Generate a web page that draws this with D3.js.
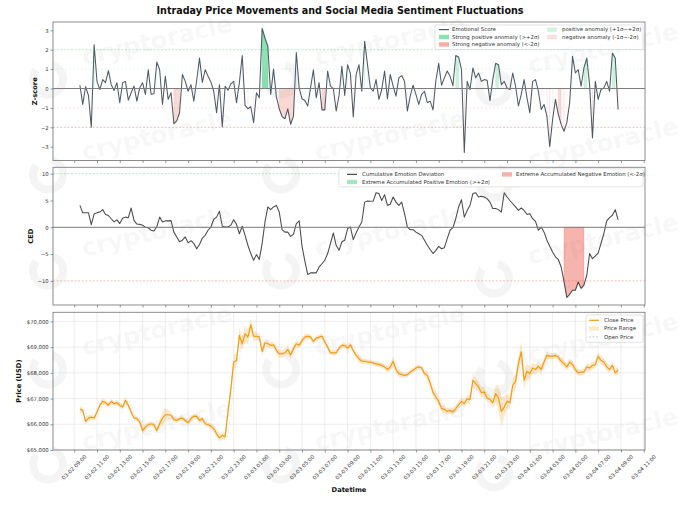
<!DOCTYPE html>
<html><head><meta charset="utf-8">
<script src="https://cdn.jsdelivr.net/npm/d3@7/dist/d3.min.js"></script>
<style>body{margin:0;background:#fff}svg{display:block}</style>
</head><body>
<svg id="chart" width="680" height="505"></svg>
<script>
// ---------------- DATA ----------------
const startTime = "2024-03-02 09:30";   // first 15-minute bar
const stepMinutes = 15;

const zScore = [
 0.17,-0.82,0.10,-0.36,-2.00,2.25,0.37,-0.05,0.46,0.30,
 0.92,0.20,-0.10,0.30,-0.73,0.30,0.37,-0.60,-0.22,0.12,
 -0.65,0.03,0.30,-0.30,0.97,-0.30,-0.27,1.37,0.97,-0.82,
 0.63,-0.56,-0.22,-1.81,-1.67,-1.25,0.72,0.37,-0.14,0.20,
 -0.65,0.40,1.57,0.32,0.97,0.63,0.34,-0.14,-1.25,0.20,
 -1.97,0.12,-0.09,0.24,0.37,-0.73,0.30,1.70,-0.87,-1.04,
 -0.94,-1.76,-0.22,-0.48,3.10,2.60,2.17,-0.30,1.00,-0.43,
 -1.04,-1.45,-1.56,-1.05,-1.85,-1.42,1.86,0.03,-0.53,-0.62,
 -0.90,0.03,0.97,-0.48,0.30,-1.10,-1.10,0.90,0.12,0.00,
 -1.16,-0.36,1.15,-0.36,1.23,0.77,-1.47,0.72,1.23,-0.14,
 2.43,1.23,0.03,-0.14,0.46,-0.56,-0.05,0.90,-0.53,0.72,
 0.12,-0.39,0.55,0.67,0.37,-1.16,-0.39,0.17,-0.30,-0.82,
 -0.30,-0.14,-0.73,-0.65,-1.10,0.40,1.30,0.17,0.55,0.90,
 0.63,0.15,1.70,1.63,0.97,-3.30,0.37,-0.05,1.06,0.55,
 0.80,0.37,0.46,0.43,-0.62,0.46,1.30,1.23,0.20,0.37,
 0.03,-0.05,0.80,0.12,-0.90,-0.30,0.46,-0.48,-1.25,0.37,
 0.46,-0.14,-1.08,-0.82,-1.42,-3.00,-1.60,-0.56,-1.33,-1.85,
 -2.20,-1.76,-0.73,1.66,0.80,0.97,0.12,1.06,1.57,0.20,
 -2.55,0.37,-0.56,-0.05,0.03,0.37,-0.14,1.83,1.57,-1.08];

const cedValues = [
 4.1,2.7,2.7,2.7,0.5,2.5,2.7,2.85,3.3,2.4,
 2.2,1.6,1.0,1.4,0.7,1.7,1.9,1.8,3.6,1.3,
 0.6,0.55,0.4,0.0,-0.1,-0.55,-0.7,0.1,1.9,1.0,
 1.2,1.2,1.25,-0.9,-1.8,-2.7,-2.4,-1.8,-2.9,-2.5,
 -3.0,-4.0,-3.2,-2.0,-1.5,-0.55,0.05,1.5,1.9,3.0,
 0.2,0.05,0.05,0.4,1.4,0.55,-1.2,0.2,-1.5,-3.35,
 -4.9,-6.15,-5.1,-6.0,-3.0,1.0,3.8,3.3,3.8,4.1,
 2.85,-0.45,-0.9,-0.9,-1.7,-1.3,0.7,1.2,-3.5,-6.3,
 -8.8,-8.5,-8.5,-8.5,-7.4,-6.8,-6.15,-4.9,-3.0,-1.05,
 -3.35,-4.3,-2.7,-2.4,-0.25,0.05,-2.3,-1.05,0.05,1.0,
 4.7,4.9,4.85,4.9,6.45,6.3,5.0,6.1,4.1,4.3,
 5.65,4.7,4.1,4.7,2.55,0.05,-0.45,-0.45,-0.9,-1.2,
 -1.5,-2.4,-3.35,-4.15,-4.9,-4.3,-3.55,-4.0,-3.8,-2.1,
 -0.55,-0.05,1.6,3.8,5.15,1.9,3.15,4.1,6.3,6.45,
 5.65,5.8,5.65,5.35,4.7,3.5,3.5,3.3,2.85,6.45,
 5.65,5.0,4.4,3.8,3.15,3.6,3.15,2.4,2.55,1.6,
 1.1,-0.55,0.05,-0.9,-2.4,-3.55,-4.6,-5.5,-6.0,-7.4,
 -10.1,-13.1,-12.5,-11.75,-11.75,-10.2,-11.4,-10.8,-8.95,-4.9,
 -5.85,-5.35,-4.8,-3.0,-1.2,1.2,1.8,2.25,3.3,1.4];

const closePrice = [
 66580,66540,66110,66240,66280,66240,66480,66740,66890,66840,
 66740,66890,66800,66840,66740,66670,66930,66740,66480,66240,
 66220,66090,65760,65890,65980,66020,65980,65760,66020,66240,
 66370,66370,66350,66190,66150,66220,66240,66150,66060,66220,
 66320,66310,66150,66220,66020,65980,65930,65830,65630,65470,
 65570,65510,66480,67360,68420,68480,69460,69130,69520,69390,
 69870,69430,69420,69390,68830,69170,69130,69070,69090,68870,
 68740,68740,68780,68910,68700,68940,69130,69070,69260,69390,
 69430,69390,69220,69350,69390,69430,69200,69000,68780,68780,
 68780,68960,69070,69070,68960,69090,68870,68680,68550,68450,
 68450,68420,68420,68380,68350,68330,68290,68230,68130,68230,
 68450,68130,67970,67930,67900,67930,68030,68100,68190,68230,
 68190,67970,67900,67600,67250,67060,66890,66610,66580,66500,
 66540,66480,66610,66760,66890,66800,66990,66970,67710,67580,
 67450,67230,67250,67020,66970,66840,67190,67020,66500,66670,
 66890,66840,67510,67670,68360,68830,67710,68060,67970,68190,
 68130,68260,68130,68420,68680,68650,68650,68680,68610,68450,
 68360,68230,68420,68320,68130,68000,68030,68030,68230,68190,
 68290,68320,68650,68480,68420,68230,68130,68290,68000,68100];

// half-width of each bar's high-low range (USD)
const rangeHalf = [
 120,120,140,100,100,100,100,120,130,100,
 100,100,100,100,100,100,130,110,100,100,
 100,100,150,120,100,100,100,120,150,250,
 250,200,130,100,100,100,100,100,100,100,
 100,100,100,100,100,100,120,120,150,150,
 150,150,200,250,300,250,300,250,300,300,
 250,200,150,150,200,150,150,120,120,150,
 150,150,150,150,150,150,150,120,120,120,
 100,100,100,100,100,100,100,100,100,100,
 100,100,100,100,100,100,100,120,150,120,
 100,100,100,100,100,100,100,100,120,150,
 200,150,150,120,100,100,100,100,100,100,
 100,120,200,200,200,200,150,150,150,120,
 120,120,120,150,150,150,150,200,250,250,
 200,200,200,150,150,200,350,500,600,400,
 300,250,300,300,300,400,350,300,250,200,
 200,200,200,200,150,120,120,120,120,150,
 150,150,150,150,150,120,120,120,150,150,
 150,150,150,150,150,150,150,150,150,150];

const xTickLabels = ["03-02 09:00","03-02 11:00","03-02 13:00","03-02 15:00","03-02 17:00","03-02 19:00",
 "03-02 21:00","03-02 23:00","03-03 01:00","03-03 03:00","03-03 05:00","03-03 07:00","03-03 09:00",
 "03-03 11:00","03-03 13:00","03-03 15:00","03-03 17:00","03-03 19:00","03-03 21:00","03-03 23:00",
 "03-04 01:00","03-04 03:00","03-04 05:00","03-04 07:00","03-04 09:00","03-04 11:00"];
const zTicks = [-3,-2,-1,0,1,2,3];
const cedTicks = [-10,-5,0,5,10];
const priceTicks = [65000,66000,67000,68000,69000,70000];
const zThresholds = [2,-2];
const cedThresholds = [10,-10];

// ---------------- SETUP ----------------
const svg = d3.select("#chart");
const FONT = "DejaVu Sans, Liberation Sans, sans-serif";
const TICK_FS = 5.3;
const L = 53, R = 645;
const P1 = {top:22, bottom:160.5}, P2 = {top:167.3, bottom:305}, P3 = {top:312.3, bottom:450};
const parse = d3.utcParse("%Y-%m-%d %H:%M");
const t0 = parse(startTime);
const times = zScore.map((_, i) => new Date(+t0 + i * stepMinutes * 60000));
const span = times[times.length-1] - times[0];
const x = d3.scaleTime()
  .domain([new Date(+times[0] - 0.05*span), new Date(+times[times.length-1] + 0.05*span)])
  .range([L, R]);
const xTickDates = xTickLabels.map(s => parse("2024-" + s));

const yZ = d3.scaleLinear().domain([-3.71, 3.43]).range([P1.bottom, P1.top]);
const yC = d3.scaleLinear().domain([-14.5, 11.2]).range([P2.bottom, P2.top]);
const yP = d3.scaleLinear().domain([65000, 70354]).range([P3.bottom, P3.top]);

const minus = s => String(s).replace("-", "\u2212");

// ---------------- WATERMARK ----------------
const wm = svg.append("g").attr("pointer-events","none");
const wmCols = [157, 390, 603], wmRows = [40, 135, 231, 330, 425];
wmRows.forEach(ry => wmCols.forEach((cx, ci) => {
  const cy = ry + (ci === 2 ? 8 : 0);
  const g = wm.append("g").attr("transform", `translate(${cx},${cy}) rotate(-13)`);
  g.append("text").attr("text-anchor","middle").attr("dy","0.35em")
    .attr("font-family", FONT).attr("font-weight","bold").attr("font-size", 24)
    .attr("fill","#000").attr("fill-opacity",0.055).text("cryptoracle");
  g.append("path").attr("transform","translate(-115,14)")
    .attr("d", d3.arc().innerRadius(11).outerRadius(19).startAngle(0.5).endAngle(5.6)())
    .attr("fill","#000").attr("fill-opacity",0.045);
}));

// ---------------- TITLE ----------------
svg.append("text").attr("x", 340).attr("y", 14).attr("text-anchor","middle")
  .attr("font-family", FONT).attr("font-weight","bold").attr("font-size", 9.6).attr("fill","#111")
  .text("Intraday Price Movements and Social Media Sentiment Fluctuations");

// clip paths
const defs = svg.append("defs");
[P1,P2,P3].forEach((p,i) => defs.append("clipPath").attr("id","clip"+i)
  .append("rect").attr("x",L).attr("y",p.top).attr("width",R-L).attr("height",p.bottom-p.top));

function frame(p) {
  svg.append("rect").attr("x",L).attr("y",p.top).attr("width",R-L).attr("height",p.bottom-p.top)
    .attr("fill","none").attr("stroke","#808080").attr("stroke-width",0.9);
}
function yAxis(scale, ticks, fmt) {
  const g = svg.append("g").attr("transform",`translate(${L},0)`)
    .call(d3.axisLeft(scale).tickValues(ticks).tickSize(2.5).tickPadding(1.8).tickFormat(fmt));
  g.select(".domain").remove();
  g.selectAll(".tick line").attr("stroke","#555").attr("stroke-width",0.6);
  g.selectAll(".tick text").attr("font-family",FONT).attr("font-size",TICK_FS).attr("fill","#333");
}
function xAxis(p) {
  const g = svg.append("g").attr("transform",`translate(0,${p.bottom})`)
    .call(d3.axisBottom(x).tickValues(xTickDates).tickSize(2.5).tickFormat(""));
  g.select(".domain").remove();
  g.selectAll(".tick line").attr("stroke","#555").attr("stroke-width",0.6);
}
function yLabel(text, cx, p) {
  svg.append("text").attr("transform",`translate(${cx},${(p.top+p.bottom)/2}) rotate(-90)`)
    .attr("text-anchor","middle").attr("dy","0.35em").attr("font-family",FONT)
    .attr("font-weight","bold").attr("font-size",6.7).attr("fill","#111").text(text);
}
function hline(scale, v, color, opacity, dash, width) {
  svg.append("line").attr("x1",L).attr("x2",R).attr("y1",scale(v)).attr("y2",scale(v))
    .attr("stroke",color).attr("stroke-opacity",opacity).attr("stroke-width",width)
    .attr("stroke-dasharray",dash);
}
// contiguous runs of indices satisfying cond
function runs(values, cond) {
  const out = []; let cur = null;
  values.forEach((v,i) => { if (cond(v)) { if (!cur) { cur = []; out.push(cur); } cur.push(i); } else cur = null; });
  return out;
}
function fillRuns(g, values, scale, cond, color, opacity) {
  runs(values, cond).forEach(r => {
    if (r.length > 1) {
      g.append("path").datum(r)
        .attr("d", d3.area().x(i => x(times[i])).y0(scale(0)).y1(i => scale(values[i])))
        .attr("fill",color).attr("fill-opacity",opacity)
        .attr("stroke",color).attr("stroke-opacity",opacity).attr("stroke-width",0.5);
    } else {
      const i = r[0];
      g.append("line").attr("x1",x(times[i])).attr("x2",x(times[i]))
        .attr("y1",scale(0)).attr("y2",scale(values[i]))
        .attr("stroke",color).attr("stroke-opacity",opacity*0.8).attr("stroke-width",0.5);
    }
  });
}
function legendBox(x0, y0, w, h) {
  svg.append("rect").attr("x",x0).attr("y",y0).attr("width",w).attr("height",h).attr("rx",1.5)
    .attr("fill","#fff").attr("fill-opacity",0.85).attr("stroke","#d0d0d0").attr("stroke-width",0.6);
}
function legendItem(type, hx, cy, color, opacity, label, tx) {
  if (type === "line" || type === "dash") {
    svg.append("line").attr("x1",hx).attr("x2",hx+10).attr("y1",cy).attr("y2",cy)
      .attr("stroke",color).attr("stroke-opacity",opacity).attr("stroke-width", type==="line"?1.2:0.9)
      .attr("stroke-dasharray", type==="dash" ? "2,1.5" : null);
  } else {
    svg.append("rect").attr("x",hx).attr("y",cy-2.2).attr("width",10).attr("height",4.4)
      .attr("fill",color).attr("fill-opacity",opacity);
  }
  svg.append("text").attr("x",tx).attr("y",cy).attr("dy","0.35em").attr("font-family",FONT)
    .attr("font-size",5.4).attr("fill","#333").text(label);
}

const GREEN = "#2ecc71", RED = "#e74c3c";

// ---------------- PANEL 1: Z-score ----------------
{
  const g = svg.append("g").attr("clip-path","url(#clip0)");
  hline(yZ, 1, GREEN, 0.22, "2,2", 0.6);
  hline(yZ, -1, RED, 0.18, "2,2", 0.6);
  hline(yZ, zThresholds[0], GREEN, 0.55, "2,1.6", 0.7);
  hline(yZ, zThresholds[1], RED, 0.5, "2,1.6", 0.7);
  hline(yZ, 0, "#7a7a7a", 1, null, 1);
  fillRuns(g, zScore, yZ, v => v > 1 && v <= 2, GREEN, 0.24);
  fillRuns(g, zScore, yZ, v => v < -1 && v >= -2, RED, 0.22);
  fillRuns(g, zScore, yZ, v => v > 2, GREEN, 0.55);
  fillRuns(g, zScore, yZ, v => v < -2, RED, 0.4);
  g.append("path").datum(zScore)
    .attr("d", d3.line().x((d,i) => x(times[i])).y(d => yZ(d)))
    .attr("fill","none").attr("stroke","#3b4756").attr("stroke-opacity",0.9).attr("stroke-width",1.05)
    .attr("stroke-linejoin","round");
  frame(P1);
  yAxis(yZ, zTicks, d => minus(d));
  xAxis(P1);
  yLabel("Z-score", 35, P1);
  legendBox(435, 25, 208, 24.5);
  legendItem("line", 439, 29.6, "#3b4756", 0.9, "Emotional Score", 452);
  legendItem("patch", 439, 37, GREEN, 0.55, "Strong positive anomaly (>+2σ)", 452);
  legendItem("patch", 439, 44.4, RED, 0.45, "Strong negative anomaly (<-2σ)", 452);
  legendItem("patch", 547, 29.6, GREEN, 0.22, "positive anomaly (+1σ~+2σ)", 562);
  legendItem("patch", 547, 37, RED, 0.18, "negative anomaly (-1σ~-2σ)", 562);
}

// ---------------- PANEL 2: CED ----------------
{
  const g = svg.append("g").attr("clip-path","url(#clip1)");
  hline(yC, cedThresholds[0], GREEN, 0.55, "2,1.6", 0.7);
  hline(yC, cedThresholds[1], RED, 0.5, "2,1.6", 0.7);
  hline(yC, 0, "#7a7a7a", 1, null, 1);
  fillRuns(g, cedValues, yC, v => v > cedThresholds[0], GREEN, 0.45);
  fillRuns(g, cedValues, yC, v => v < cedThresholds[1], RED, 0.42);
  g.append("path").datum(cedValues)
    .attr("d", d3.line().x((d,i) => x(times[i])).y(d => yC(d)))
    .attr("fill","none").attr("stroke","#4a4a4a").attr("stroke-width",1.05).attr("stroke-linejoin","round");
  frame(P2);
  yAxis(yC, cedTicks, d => minus(d));
  xAxis(P2);
  yLabel("CED", 31, P2);
  legendBox(339, 168.8, 304, 18);
  legendItem("line", 347, 174.4, "#4a4a4a", 1, "Cumulative Emotion Deviation", 362);
  legendItem("patch", 347, 182, GREEN, 0.45, "Extreme Accumulated Positive Emotion (>+2σ)", 362);
  legendItem("patch", 502, 174.4, RED, 0.42, "Extreme Accumulated Negative Emotion (<-2σ)", 516);
}

// ---------------- PANEL 3: Price ----------------
{
  // grid
  const grid = svg.append("g");
  xTickDates.forEach(d => grid.append("line").attr("x1",x(d)).attr("x2",x(d))
    .attr("y1",P3.top).attr("y2",P3.bottom).attr("stroke","#e3e3e3").attr("stroke-width",0.6));
  priceTicks.forEach(v => grid.append("line").attr("x1",L).attr("x2",R)
    .attr("y1",yP(v)).attr("y2",yP(v)).attr("stroke","#e3e3e3").attr("stroke-width",0.6));
  const g = svg.append("g").attr("clip-path","url(#clip2)");
  const ORANGE = "#f39c12";
  g.append("path").datum(closePrice)
    .attr("d", d3.area().x((d,i) => x(times[i])).y0((d,i) => yP(d - rangeHalf[i])).y1((d,i) => yP(d + rangeHalf[i])))
    .attr("fill", ORANGE).attr("fill-opacity", 0.22);
  // open of each 15-min bar = previous bar's close
  g.append("path").datum(closePrice.map((d,i) => i === 0 ? d : closePrice[i-1]))
    .attr("d", d3.line().x((d,i) => x(times[i])).y(d => yP(d)))
    .attr("fill","none").attr("stroke","#7f8c8d").attr("stroke-opacity",0.25).attr("stroke-width",0.7)
    .attr("stroke-dasharray","2,1.5");
  g.append("path").datum(closePrice)
    .attr("d", d3.line().x((d,i) => x(times[i])).y(d => yP(d)))
    .attr("fill","none").attr("stroke",ORANGE).attr("stroke-width",1.2).attr("stroke-linejoin","round");
  frame(P3);
  yAxis(yP, priceTicks, d3.format("$,.0f"));
  xAxis(P3);
  yLabel("Price (USD)", 19, P3);
  // rotated x labels (45°, centred on tick)
  const lab = svg.append("g");
  xTickLabels.forEach((s, i) => {
    const t = lab.append("text").attr("font-family",FONT).attr("font-size",TICK_FS).attr("fill","#333")
      .attr("text-anchor","middle").attr("dy","0.35em").text(s);
    const len = t.node().getComputedTextLength();
    const hh = (len * Math.SQRT1_2 + TICK_FS * Math.SQRT1_2) / 2;
    t.attr("transform", `translate(${x(xTickDates[i])},${P3.bottom + 4 + hh}) rotate(-45)`);
  });
  svg.append("text").attr("x",(L+R)/2).attr("y",492).attr("text-anchor","middle")
    .attr("font-family",FONT).attr("font-weight","bold").attr("font-size",6.7).attr("fill","#111")
    .text("Datetime");
  legendBox(586, 315, 57, 27.3);
  legendItem("line", 589, 320.3, ORANGE, 1, "Close Price", 604);
  legendItem("patch", 589, 328.6, ORANGE, 0.22, "Price Range", 604);
  legendItem("dash", 589, 336.9, "#7f8c8d", 0.5, "Open Price", 604);
}
</script>
</body></html>
